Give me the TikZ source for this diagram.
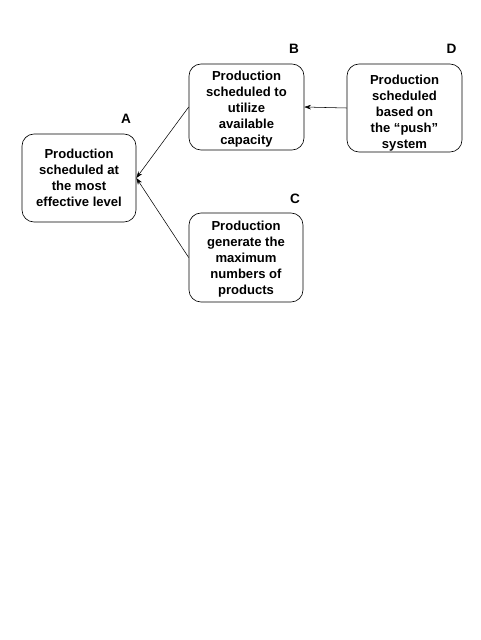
\documentclass[tikz,border=0pt]{standalone}
\usepackage{fontspec}
\setmainfont{Liberation Sans}
\usetikzlibrary{arrows.meta}
\begin{document}
\begin{tikzpicture}[x=0.75pt,y=-0.75pt,
  frame/.style={draw, rounded corners=9pt, line width=0.5pt, inner sep=0pt},
  txt/.style={align=center, inner sep=0pt,
    font=\bfseries\fontsize{9.8pt}{12pt}\selectfont},
  lab/.style={font=\bfseries\fontsize{10.2pt}{12pt}\selectfont, inner sep=0pt},
  conn/.style={-{Stealth[length=5pt,width=3.5pt]}, line width=0.4pt}]
\useasboundingbox (0,0) rectangle (480,640);
\node[frame, minimum width=114*0.75pt, minimum height=88*0.75pt] (A) at (79,178) {};
\node[frame, minimum width=115*0.75pt, minimum height=86*0.75pt] (B) at (246.5,107) {};
\node[frame, minimum width=114*0.75pt, minimum height=89*0.75pt] (C) at (246,257.5) {};
\node[frame, minimum width=115*0.75pt, minimum height=88*0.75pt] (D) at (404.5,108) {};
\node[txt] (At) at (A.center) {Production\\scheduled at\\the most\\effective level};
\node[txt] (Bt) at ([yshift=-1.5pt]B.center) {Production\\scheduled to\\utilize\\available\\capacity};
\node[txt] (Ct) at ([yshift=-1.5pt]C.center) {Production\\generate the\\maximum\\numbers of\\products};
\node[txt] (Dt) at ([yshift=-3.8pt]D.center) {Production\\scheduled\\based on\\the “push”\\system};
\node[lab] (lA) at (126,119) {A};
\node[lab] (lB) at (294,49) {B};
\node[lab] (lC) at (295,199) {C};
\node[lab] (lD) at (451.5,49) {D};
\draw[conn] (B.west) -- (A.east);
\draw[conn] (C.west) -- (A.east);
\draw[conn] (D.west) -- (B.east);
\end{tikzpicture}
\end{document}
